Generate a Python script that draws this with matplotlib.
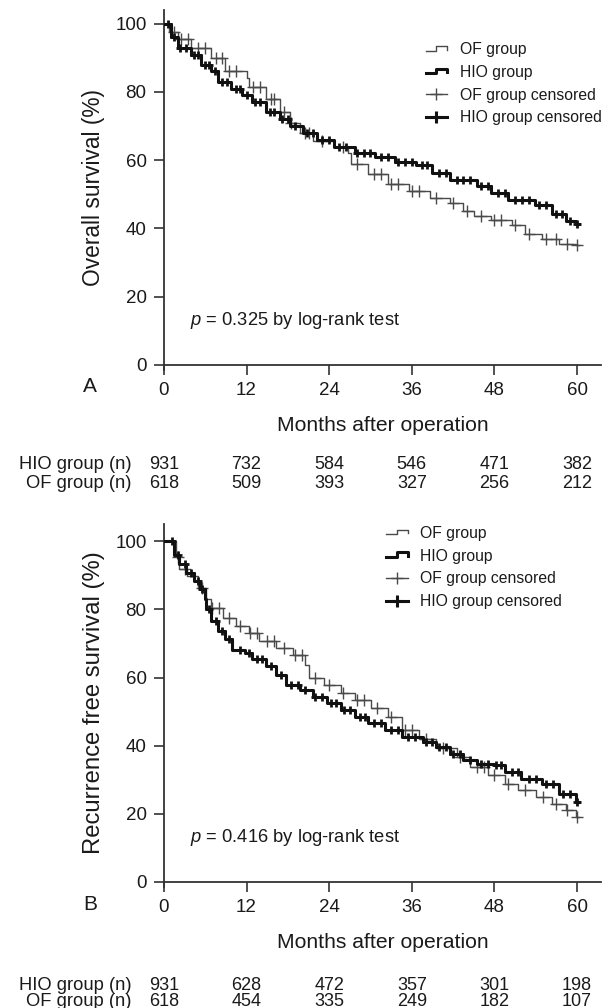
import matplotlib
matplotlib.use("Agg")
import numpy as np
import matplotlib.pyplot as plt
from matplotlib.lines import Line2D
from matplotlib.legend_handler import HandlerBase

plt.rcParams["font.family"] = ["Liberation Sans", "DejaVu Sans"]
plt.rcParams["mathtext.fontset"] = "custom"
plt.rcParams["mathtext.it"] = "Liberation Sans:italic"
plt.rcParams["mathtext.rm"] = "Liberation Sans"

# ---- data ----
months_ticks = [0, 12, 24, 36, 48, 60]

# panel A: overall survival (step times in months, survival in %)
a_hio_t = [0, 1, 2, 4, 5.4, 6.9, 7.9, 9.8, 11.3, 12.8, 14.8, 16.8, 18.3, 20.2, 22.2,
           24.7, 27.7, 30.6, 33.6, 36.6, 39, 41.5, 45.5, 47.5, 50, 53.9, 56.4, 58.4, 59.9]
a_hio_s = [100, 96, 93, 90.7, 88, 86, 83, 81, 79, 77, 74, 72, 70, 68, 66,
           64, 62, 61, 59.5, 58.5, 56.3, 54.3, 52.3, 50.3, 48.3, 46.8, 44.3, 42.3, 41.3]
a_of_t = [0, 0.8, 2, 4, 6.9, 8.9, 12, 12.3, 14.8, 16.8, 18.3, 19.8, 21.7, 24.7, 26.7,
          27.2, 29.7, 32.6, 35.6, 38.6, 41.5, 43.5, 45, 47.5, 50.5, 52.4, 54.9, 57.4, 59.9]
a_of_s = [100, 97.5, 95.5, 93, 90, 86, 84, 81.5, 78, 74, 70.8, 68, 65.7, 63.8, 62,
          59, 56, 53, 51, 49, 47.5, 45, 43.5, 42.5, 41, 38.5, 37, 35.5, 35]
a_of_cens = [1.5, 2.5, 3.5, 5, 6, 7.5, 8.5, 9.5, 10.5, 13, 14, 15.5, 16, 17.5, 18.5, 20.5,
             21, 23, 26, 28, 30.5, 31.5, 33, 34, 36, 37, 39.5, 42, 44, 46, 48, 49, 51,
             53, 55.5, 57, 58.5, 60]
a_hio_cens = [0.6, 1.5, 2.4, 3.2, 4.4, 5, 6, 6.5, 7.4, 8.4, 9.2, 10.4, 11, 12, 13.2, 14,
              15.4, 16, 17.2, 18, 19, 20.8, 21.6, 23, 24, 25.5, 26.5, 28, 29, 30, 31.5,
              32.5, 34, 35, 36, 37.5, 38.2, 40, 41, 42.5, 43.5, 44.5, 46, 47, 48.5, 49.5,
              51, 52, 53, 54.5, 55.5, 57, 57.8, 59, 60]

# panel B: recurrence free survival
b_hio_t = [0, 1.4, 2.2, 3.2, 4.4, 5.2, 5.9, 6.1, 6.9, 7.9, 8.9, 9.9, 11.8, 12.8, 14.8,
           16.3, 17.8, 19.8, 21.7, 23.7, 25.7, 27.7, 29.7, 32.1, 34.6, 37.6, 39.5, 41.5,
           43.5, 45.5, 48, 49.5, 51.9, 54.9, 57.4, 59.9]
b_hio_s = [100, 96, 93.3, 90.8, 88.4, 86, 83, 80, 76.6, 73.6, 71.2, 68.2, 67.2, 65.3, 63.3,
           60.8, 57.9, 56.4, 54.4, 52.5, 50.5, 48.5, 46.6, 44.6, 42.6, 41.1, 39.7, 37.7,
           35.7, 34.7, 34.3, 32.3, 30.3, 28.8, 25.9, 23.4]
b_of_t = [0, 1.7, 2.2, 3.4, 4.9, 6.1, 6.9, 8.6, 10.4, 12.3, 13.8, 16.3, 18.8, 20.5, 21,
          23.2, 25.7, 27.7, 30.1, 32.6, 34.6, 37.1, 39.5, 42.5, 44.5, 47, 49.5, 51.5, 54,
          56.4, 58.4, 59.9]
b_of_s = [100, 95.3, 91.8, 89.9, 86.4, 83, 80.5, 77.6, 75.1, 73.1, 70.7, 68.7, 66.7, 63.8,
          59.8, 57.9, 55.4, 53.4, 51, 48.5, 44.6, 42.1, 39.2, 36.7, 33.8, 31.3, 28.8, 26.9,
          24.9, 22.9, 21, 19]
b_of_cens = [2, 3, 5.5, 7, 8, 9.5, 11, 12.5, 13.5, 15, 16, 17.5, 19, 20, 22, 24, 26, 28,
             29, 31, 33, 35, 36, 38, 40.5, 43, 45.5, 46.5, 48, 50, 52.5, 55, 57, 58.5, 60]
b_hio_cens = [1.2, 2, 3, 4, 5, 5.6, 6.5, 7.5, 8.5, 9.5, 11, 12.3, 13.5, 14.3, 15.5, 17,
              18.5, 19.5, 20.5, 22, 23, 24.2, 25, 26.2, 27, 28.5, 29.2, 30.5, 31.5, 33,
              34, 35.5, 36.5, 38, 39, 40, 41, 42, 43, 44.5, 46, 47, 48.3, 49, 50.5, 51.5,
              53, 54, 55.5, 56.5, 58, 59, 60]

a_hio_n = [931, 732, 584, 546, 471, 382]
a_of_n = [618, 509, 393, 327, 256, 212]
b_hio_n = [931, 628, 472, 357, 301, 198]
b_of_n = [618, 454, 335, 249, 182, 107]

OF_COLOR = "#4a4a4a"
HIO_COLOR = "#111111"
TXT = "#1a1a1a"


class StepHandler(HandlerBase):
    def create_artists(self, legend, orig_handle, xdescent, ydescent, width, height,
                       fontsize, trans):
        x0, y0 = -xdescent, -ydescent
        xs = [x0, x0 + 0.5 * width, x0 + 0.5 * width, x0 + width, x0 + width]
        ys = [y0 + 0.3 * height, y0 + 0.3 * height, y0 + 0.75 * height,
              y0 + 0.75 * height, y0 + 0.4 * height]
        ln = Line2D(xs, ys, color=orig_handle.get_color(),
                    lw=orig_handle.get_linewidth(), transform=trans)
        return [ln]


def surv_at(times, surv, t):
    idx = np.searchsorted(times, t, side="right") - 1
    return np.array(surv)[idx]


def panel(ax, of_t, of_s, hio_t, hio_s, of_c, hio_c, top, ylabel, ptext, letter,
          hio_n, of_n, rows_y, xlab_y, legend_anchor, ylab_size):
    of_t = of_t + [60.3]
    of_s = of_s + [of_s[-1]]
    hio_t = hio_t + [60.3]
    hio_s = hio_s + [hio_s[-1]]
    ax.step(of_t, of_s, where="post", color=OF_COLOR, lw=1.0, zorder=2)
    ax.step(hio_t, hio_s, where="post", color=HIO_COLOR, lw=2.2, zorder=3)
    ax.plot(of_c, surv_at(of_t, of_s, of_c), "+", color=OF_COLOR, ms=8, mew=1.0,
            zorder=2)
    ax.plot(hio_c, surv_at(hio_t, hio_s, hio_c), "+", color=HIO_COLOR, ms=6, mew=2.0,
            zorder=3)

    ax.set_xlim(0, 63.5)
    ax.set_ylim(0, top)
    ax.set_xticks(months_ticks)
    ax.set_yticks([0, 20, 40, 60, 80, 100])
    for s in ["top", "right"]:
        ax.spines[s].set_visible(False)
    for s in ["left", "bottom"]:
        ax.spines[s].set_color("#333333")
        ax.spines[s].set_linewidth(1.3)
    ax.spines["left"].set_bounds(-1.5, top)
    ax.tick_params(direction="out", length=7, width=1.2, color="#333333",
                   labelsize=13.5, labelcolor=TXT, pad=5.5)
    ax.set_ylabel(ylabel, fontsize=ylab_size, color=TXT)
    ax.yaxis.set_label_coords(-0.134, 0.5)
    ax.set_xlabel("Months after operation", fontsize=15.2, color=TXT)
    ax.xaxis.set_label_coords(0.5, xlab_y)

    ax.text(3.8, 13.1, r"$p$ = " + ptext + " by log-rank test", fontsize=13.2,
            color=TXT, va="center")
    ax.text(-10.75, -0.062, letter, transform=ax.get_xaxis_transform(),
            fontsize=15, color=TXT, ha="center", va="center")

    tr = ax.get_xaxis_transform()
    for label, vals, yy in [("HIO group (n)", hio_n, rows_y[0]),
                            ("OF group (n)", of_n, rows_y[1])]:
        ax.text(-4.7, yy, label, transform=tr, ha="right", va="center",
                fontsize=13.2, color=TXT, clip_on=False)
        for m, v in zip(months_ticks, vals):
            ax.text(m, yy, str(v), transform=tr, ha="center", va="center",
                    fontsize=13, color=TXT, clip_on=False)

    handles = [
        Line2D([], [], color=OF_COLOR, lw=1.0),
        Line2D([], [], color=HIO_COLOR, lw=2.2),
        Line2D([], [], color=OF_COLOR, lw=1.0, marker="+", ms=9, mew=1.0),
        Line2D([], [], color=HIO_COLOR, lw=2.2, marker="+", ms=8, mew=2.2),
    ]
    labels = ["OF group", "HIO group", "OF group censored", "HIO group censored"]
    ax.legend(handles, labels, loc="upper left", bbox_to_anchor=legend_anchor,
              frameon=False, fontsize=11.3, handlelength=1.4, handletextpad=0.8,
              labelspacing=0.5, labelcolor=TXT,
              handler_map={handles[0]: StepHandler(), handles[1]: StepHandler()})


fig = plt.figure(figsize=(6.14, 10.08), dpi=100)
ax1 = fig.add_axes([0.267, 0.638, 0.712, 0.352])
ax2 = fig.add_axes([0.267, 0.125, 0.712, 0.355])

panel(ax1, a_of_t, a_of_s, a_hio_t, a_hio_s, a_of_cens, a_hio_cens, 104,
      "Overall survival (%)", "0.325", "A", a_hio_n, a_of_n, (-0.282, -0.333),
      -0.145, (0.566, 0.95), 16.4)
panel(ax2, b_of_t, b_of_s, b_hio_t, b_hio_s, b_of_cens, b_hio_cens, 105,
      "Recurrence free survival (%)", "0.416", "B", b_hio_n, b_of_n, (-0.288, -0.334),
      -0.142, (0.475, 1.035), 17.2)

fig.savefig("out.png", dpi=100, facecolor="white")
